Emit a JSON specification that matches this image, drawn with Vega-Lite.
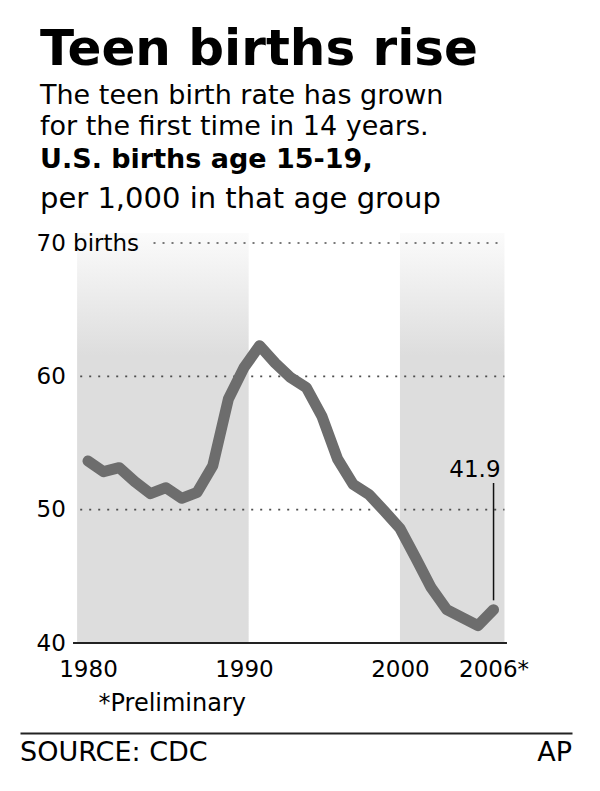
{
  "$schema": "https://vega.github.io/schema/vega-lite/v6.json",
  "background": "white",
  "padding": {"left": 20, "top": 25, "right": 20, "bottom": 0},
  "bounds": "flush",
  "spacing": 90,
  "config": {"view": {"stroke": null}, "font": "DejaVu Sans"},
  "title": {
    "text": "Teen births rise",
    "subtitle": ["The teen birth rate has grown", "for the first time in 14 years."],
    "anchor": "start",
    "dx": 20,
    "font": "DejaVu Sans",
    "fontSize": 50,
    "fontWeight": "bold",
    "color": "#000000",
    "subtitleFont": "DejaVu Sans",
    "subtitleFontSize": 27,
    "subtitleLineHeight": 31.5,
    "subtitleColor": "#000000",
    "subtitlePadding": 7.5,
    "offset": 6
  },
  "vconcat": [
    {
      "width": 552,
      "height": 410,
      "title": {
        "text": "U.S. births age 15-19,",
        "subtitle": "per 1,000 in that age group",
        "anchor": "start",
        "dx": 20,
        "font": "DejaVu Sans",
        "fontSize": 27,
        "fontWeight": "bold",
        "color": "#000000",
        "subtitleFont": "DejaVu Sans",
        "subtitleFontSize": 29,
        "subtitleColor": "#000000",
        "subtitlePadding": 11,
        "offset": 17
      },
      "layer": [
        {
          "data": {"values": [{"from": 1979.3, "to": 1990.3}, {"from": 2000, "to": 2006.7}]},
          "mark": {
            "type": "rect",
            "fill": {
              "gradient": "linear",
              "x1": 0, "y1": 0, "x2": 0, "y2": 1,
              "stops": [
                {"offset": 0, "color": "#fbfbfb"},
                {"offset": 0.3, "color": "#dddddd"},
                {"offset": 1, "color": "#dddddd"}
              ]
            }
          },
          "encoding": {
            "x": {"field": "from", "type": "quantitative", "scale": {"domain": [1975.64, 2011.03], "nice": false, "zero": false}},
            "x2": {"field": "to"}
          }
        },
        {
          "data": {"values": [{"v": 50}, {"v": 60}]},
          "mark": {"type": "rule", "color": "#4d4d4d", "strokeWidth": 1.7, "strokeDash": [2, 7]},
          "encoding": {
            "y": {"field": "v", "type": "quantitative"},
            "x": {"datum": 1979.5, "type": "quantitative"},
            "x2": {"datum": 2006.7}
          }
        },
        {
          "data": {"values": [{"v": 70}]},
          "mark": {"type": "rule", "color": "#4d4d4d", "strokeWidth": 1.7, "strokeDash": [2, 7]},
          "encoding": {
            "y": {"field": "v", "type": "quantitative"},
            "x": {"datum": 1984.2, "type": "quantitative"},
            "x2": {"datum": 2006.7}
          }
        },
        {
          "data": {"values": [{"v": 40}]},
          "mark": {"type": "rule", "color": "#222222", "strokeWidth": 2},
          "encoding": {
            "y": {"field": "v", "type": "quantitative"},
            "x": {"datum": 1979.04, "type": "quantitative"},
            "x2": {"datum": 2006.86}
          }
        },
        {
          "data": {"values": [
            {"year": 1980, "rate": 53.65},
            {"year": 1981, "rate": 52.85},
            {"year": 1982, "rate": 53.15},
            {"year": 1983, "rate": 52.1},
            {"year": 1984, "rate": 51.2},
            {"year": 1985, "rate": 51.65},
            {"year": 1986, "rate": 50.85},
            {"year": 1987, "rate": 51.3},
            {"year": 1988, "rate": 53.3},
            {"year": 1989, "rate": 58.3},
            {"year": 1990, "rate": 60.65},
            {"year": 1991, "rate": 62.3},
            {"year": 1992, "rate": 61.0},
            {"year": 1993, "rate": 59.9},
            {"year": 1994, "rate": 59.15},
            {"year": 1995, "rate": 57.0},
            {"year": 1996, "rate": 53.8},
            {"year": 1997, "rate": 51.9},
            {"year": 1998, "rate": 51.15},
            {"year": 1999, "rate": 49.9},
            {"year": 2000, "rate": 48.6},
            {"year": 2001, "rate": 46.4},
            {"year": 2002, "rate": 44.15},
            {"year": 2003, "rate": 42.5},
            {"year": 2004, "rate": 41.9},
            {"year": 2005, "rate": 41.3},
            {"year": 2006, "rate": 42.5}
          ]},
          "mark": {"type": "line", "color": "#6d6d6d", "strokeWidth": 11, "strokeCap": "round", "strokeJoin": "round"},
          "encoding": {
            "x": {
              "field": "year", "type": "quantitative",
              "axis": {
                "values": [1980, 1990, 2000, 2006],
                "format": "d",
                "labelExpr": "datum.value == 2006 ? '2006*' : datum.label",
                "labelFont": "DejaVu Sans",
                "labelFontSize": 23,
                "labelColor": "#000000",
                "labelBaseline": "alphabetic",
                "labelPadding": 33,
                "labelFlush": false,
                "labelOverlap": false,
                "ticks": false,
                "tickSize": 0,
                "domain": false,
                "grid": false,
                "zindex": 1,
                "title": "*Preliminary",
                "titleFont": "DejaVu Sans",
                "titleFontSize": 24,
                "titleFontWeight": "normal",
                "titleColor": "#000000",
                "titleAnchor": "start",
                "titleAlign": "left",
                "titleBaseline": "alphabetic",
                "titleX": 78,
                "titleY": 67
              }
            },
            "y": {
              "field": "rate", "type": "quantitative",
              "scale": {"domain": [40, 70.75], "nice": false, "zero": false},
              "axis": {
                "values": [40, 50, 60, 70],
                "labelExpr": "datum.value == 70 ? '70 births' : datum.label",
                "labelFont": "DejaVu Sans",
                "labelFontSize": 23,
                "labelColor": "#000000",
                "labelAlign": "left",
                "labelBaseline": "middle",
                "labelPadding": 0,
                "labelLimit": 300,
                "offset": -16,
                "ticks": false,
                "tickSize": 0,
                "domain": false,
                "grid": false,
                "zindex": 1,
                "title": null
              }
            }
          }
        },
        {
          "data": {"values": [{"year": 2006, "label": "41.9"}]},
          "mark": {"type": "rule", "color": "#111111", "strokeWidth": 1.5},
          "encoding": {
            "x": {"field": "year", "type": "quantitative"},
            "y": {"datum": 43.2},
            "y2": {"datum": 52.0}
          }
        },
        {
          "data": {"values": [{"year": 2006, "label": "41.9"}]},
          "mark": {"type": "text", "align": "right", "baseline": "alphabetic", "dx": 7, "fontSize": 23, "font": "DejaVu Sans", "color": "#000000"},
          "encoding": {
            "x": {"field": "year", "type": "quantitative"},
            "y": {"datum": 52.45},
            "text": {"field": "label"}
          }
        }
      ]
    },
    {
      "width": 552,
      "height": 56,
      "data": {"values": [{"credit": "SOURCE: CDC", "side": "left"}, {"credit": "AP", "side": "right"}]},
      "layer": [
        {
          "transform": [{"filter": "datum.side == 'left'"}],
          "mark": {"type": "text", "align": "left", "baseline": "alphabetic", "fontSize": 27, "font": "DejaVu Sans", "color": "#000000"},
          "encoding": {
            "x": {
              "field": "side", "type": "nominal",
              "scale": {"type": "point", "padding": 0, "domain": ["left", "right"]},
              "axis": {"orient": "top", "labels": false, "ticks": false, "domain": true, "domainColor": "#222222", "domainWidth": 2, "grid": false, "title": null}
            },
            "text": {"field": "credit"}
          }
        },
        {
          "transform": [{"filter": "datum.side == 'right'"}],
          "mark": {"type": "text", "align": "right", "baseline": "alphabetic", "fontSize": 27, "font": "DejaVu Sans", "color": "#000000"},
          "encoding": {
            "x": {"field": "side", "type": "nominal"},
            "text": {"field": "credit"}
          }
        }
      ]
    }
  ]
}
